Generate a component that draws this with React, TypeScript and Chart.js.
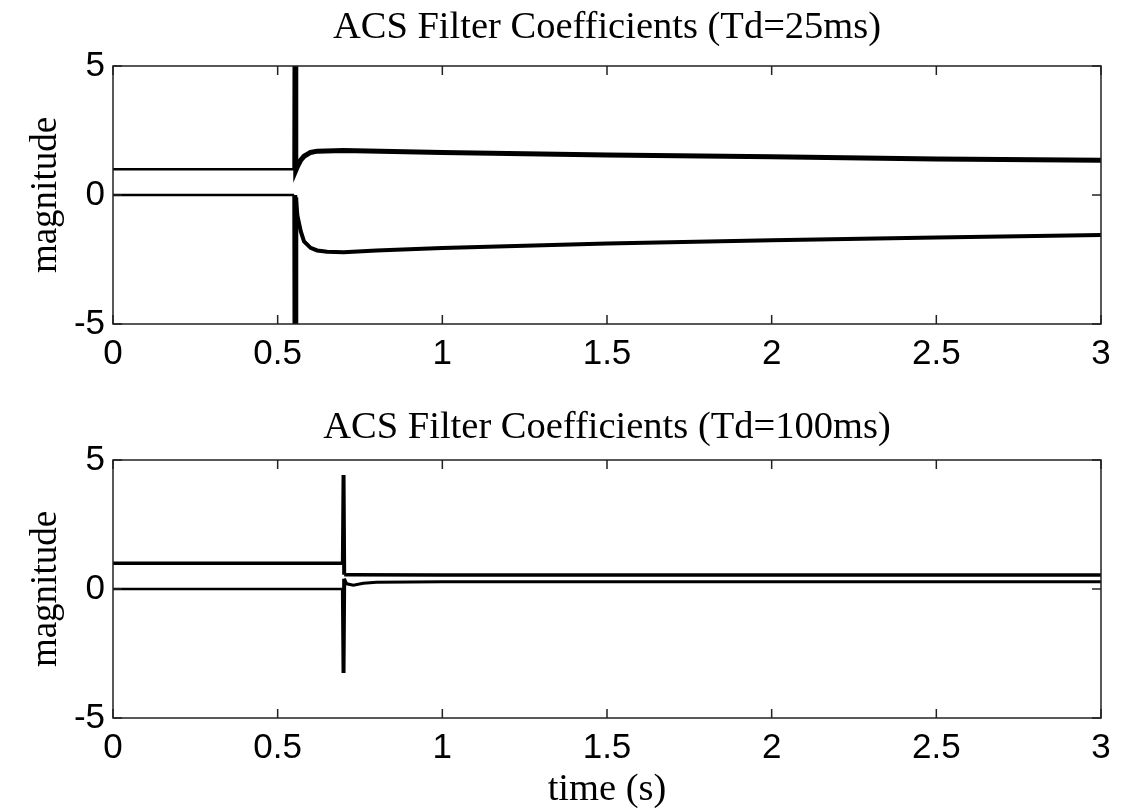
import React, { useEffect, useRef } from "react";
import { Chart, registerables } from "chart.js";

Chart.register(...registerables);

// ---- tick labels ----
const xTickValues = [0, 0.5, 1, 1.5, 2, 2.5, 3];
const yTickValues = [-5, 0, 5];

// ---- top plot (Td = 25ms) ----
const topTimeA = [0, 0.55, 0.552, 0.553, 0.555, 0.56, 0.57, 0.58, 0.6, 0.62, 0.7, 1.0, 1.5, 2.0, 2.5, 3.0];
const topCoefA = [1, 1, 1, 8, 0.95, 1.1, 1.35, 1.5, 1.65, 1.7, 1.72, 1.65, 1.55, 1.48, 1.4, 1.35];
const topTimeB = [0, 0.55, 0.552, 0.553, 0.555, 0.56, 0.57, 0.58, 0.6, 0.62, 0.65, 0.7, 0.8, 1.0, 1.5, 2.0, 2.5, 3.0];
const topCoefB = [0, 0, 0, -8, -0.1, -0.8, -1.4, -1.8, -2.05, -2.15, -2.2, -2.22, -2.15, -2.05, -1.88, -1.75, -1.65, -1.55];

// ---- bottom plot (Td = 100ms) ----
const botTimeA = [0, 0.695, 0.698, 0.7, 0.702, 0.72, 1.0, 2.0, 3.0];
const botCoefA = [1, 1, 1, 4.42, 0.55, 0.55, 0.54, 0.54, 0.54];
const botTimeB = [0, 0.695, 0.698, 0.7, 0.702, 0.71, 0.73, 0.76, 0.8, 1.0, 2.0, 3.0];
const botCoefB = [0, 0, 0, -3.26, 0.4, 0.2, 0.15, 0.22, 0.26, 0.28, 0.28, 0.28];

const SERIF = '"Liberation Serif", "Times New Roman", serif';
const SANS = '"Liberation Sans", Arial, sans-serif';

const framePlugin = {
  id: "frame",
  afterDatasetsDraw(chart: any, _args: any, opts: any) {
    const { ctx, chartArea: a, scales } = chart;
    ctx.save();
    ctx.strokeStyle = "#222";
    ctx.lineWidth = 1.5;
    ctx.strokeRect(a.left, a.top, a.right - a.left, a.bottom - a.top);
    const L = 9;
    ctx.beginPath();
    xTickValues.forEach((v) => {
      const px = scales.x.getPixelForValue(v);
      ctx.moveTo(px, a.bottom);
      ctx.lineTo(px, a.bottom - L);
      ctx.moveTo(px, a.top);
      ctx.lineTo(px, a.top + L);
    });
    yTickValues.forEach((v) => {
      const py = scales.y.getPixelForValue(v);
      ctx.moveTo(a.left, py);
      ctx.lineTo(a.left + L, py);
      ctx.moveTo(a.right, py);
      ctx.lineTo(a.right - L, py);
    });
    ctx.stroke();

    ctx.fillStyle = "#000";
    ctx.font = `38.5px ${SERIF}`;
    ctx.textAlign = "center";
    ctx.textBaseline = "alphabetic";
    ctx.fillText(opts.title, (a.left + a.right) / 2, opts.titleY);
    if (opts.xlabel) {
      ctx.fillText(opts.xlabel, (a.left + a.right) / 2, opts.xlabelY);
    }
    ctx.save();
    ctx.font = `37px ${SERIF}`;
    ctx.translate(46, (a.top + a.bottom) / 2);
    ctx.rotate(-Math.PI / 2);
    ctx.textBaseline = "middle";
    ctx.fillText("magnitude", 0, 0);
    ctx.restore();
    ctx.restore();
  },
};

function makeConfig(
  tA: number[], yA: number[], tB: number[], yB: number[],
  height: number, top: number, bottom: number,
  title: string, titleY: number, xlabel: string, xlabelY: number,
  spikeX: number, wPre: [number, number], wPost: [number, number], wSpike: number
): any {
  const seg = (k: number) => ({
    borderWidth: (c: any) => {
      const x0 = c.p0.parsed.x;
      const x1 = c.p1.parsed.x;
      if (x1 - x0 < 0.004 && Math.abs(c.p1.parsed.y - c.p0.parsed.y) > 2) return wSpike;
      return x1 <= spikeX - 0.001 ? wPre[k] : wPost[k];
    },
  });
  return {
    type: "line",
    data: {
      datasets: [
        {
          data: tA.map((t, i) => ({ x: t, y: yA[i] })),
          borderColor: "#000",
          borderWidth: wPost[0],
          pointRadius: 0,
          tension: 0,
          fill: false,
          segment: seg(0),
        },
        {
          data: tB.map((t, i) => ({ x: t, y: yB[i] })),
          borderColor: "#000",
          borderWidth: wPost[1],
          pointRadius: 0,
          tension: 0,
          fill: false,
          segment: seg(1),
        },
      ],
    },
    options: {
      animation: false,
      responsive: false,
      devicePixelRatio: 1,
      layout: { padding: { top: top, right: 28, left: 0, bottom: 0 } },
      plugins: {
        legend: { display: false },
        tooltip: { enabled: false },
        title: { display: false },
        frame: { title, titleY, xlabel, xlabelY },
      },
      scales: {
        x: {
          type: "linear",
          min: 0,
          max: 3,
          afterBuildTicks: (s: any) => {
            s.ticks = xTickValues.map((v) => ({ value: v }));
          },
          afterFit: (s: any) => {
            s.height = height - bottom;
          },
          grid: { display: false, drawTicks: false },
          border: { display: false },
          ticks: {
            color: "#000",
            font: { family: SANS, size: 35 },
            padding: 9,
            maxRotation: 0,
            autoSkip: false,
            callback: (v: any) => String(v),
          },
        },
        y: {
          type: "linear",
          min: -5,
          max: 5,
          afterBuildTicks: (s: any) => {
            s.ticks = yTickValues.map((v) => ({ value: v }));
          },
          afterFit: (s: any) => {
            s.width = 113;
          },
          grid: { display: false, drawTicks: false },
          border: { display: false },
          ticks: {
            color: "#000",
            font: { family: SANS, size: 35 },
            padding: 8,
            callback: (v: any) => String(v),
          },
        },
      },
    },
    plugins: [framePlugin],
  };
}

export default function App() {
  const ref1 = useRef<HTMLCanvasElement>(null);
  const ref2 = useRef<HTMLCanvasElement>(null);

  useEffect(() => {
    const c1 = new Chart(
      ref1.current as HTMLCanvasElement,
      makeConfig(topTimeA, topCoefA, topTimeB, topCoefB, 400, 66, 324,
        "ACS Filter Coefficients (Td=25ms)", 38, "", 0,
        0.553, [2.5, 2.5], [5, 4], 5)
    );
    const c2 = new Chart(
      ref2.current as HTMLCanvasElement,
      makeConfig(botTimeA, botCoefA, botTimeB, botCoefB, 409, 60, 318,
        "ACS Filter Coefficients (Td=100ms)", 38, "time (s)", 400,
        0.7, [3.5, 2.5], [3.5, 3], 4)
    );
    return () => {
      c1.destroy();
      c2.destroy();
    };
  }, []);

  return (
    <div style={{ position: "fixed", left: 0, top: 0, width: 1129, height: 809, background: "#fff" }}>
      <canvas ref={ref1} width={1129} height={400} style={{ position: "absolute", left: 0, top: 0 }} />
      <canvas ref={ref2} width={1129} height={409} style={{ position: "absolute", left: 0, top: 400 }} />
    </div>
  );
}
